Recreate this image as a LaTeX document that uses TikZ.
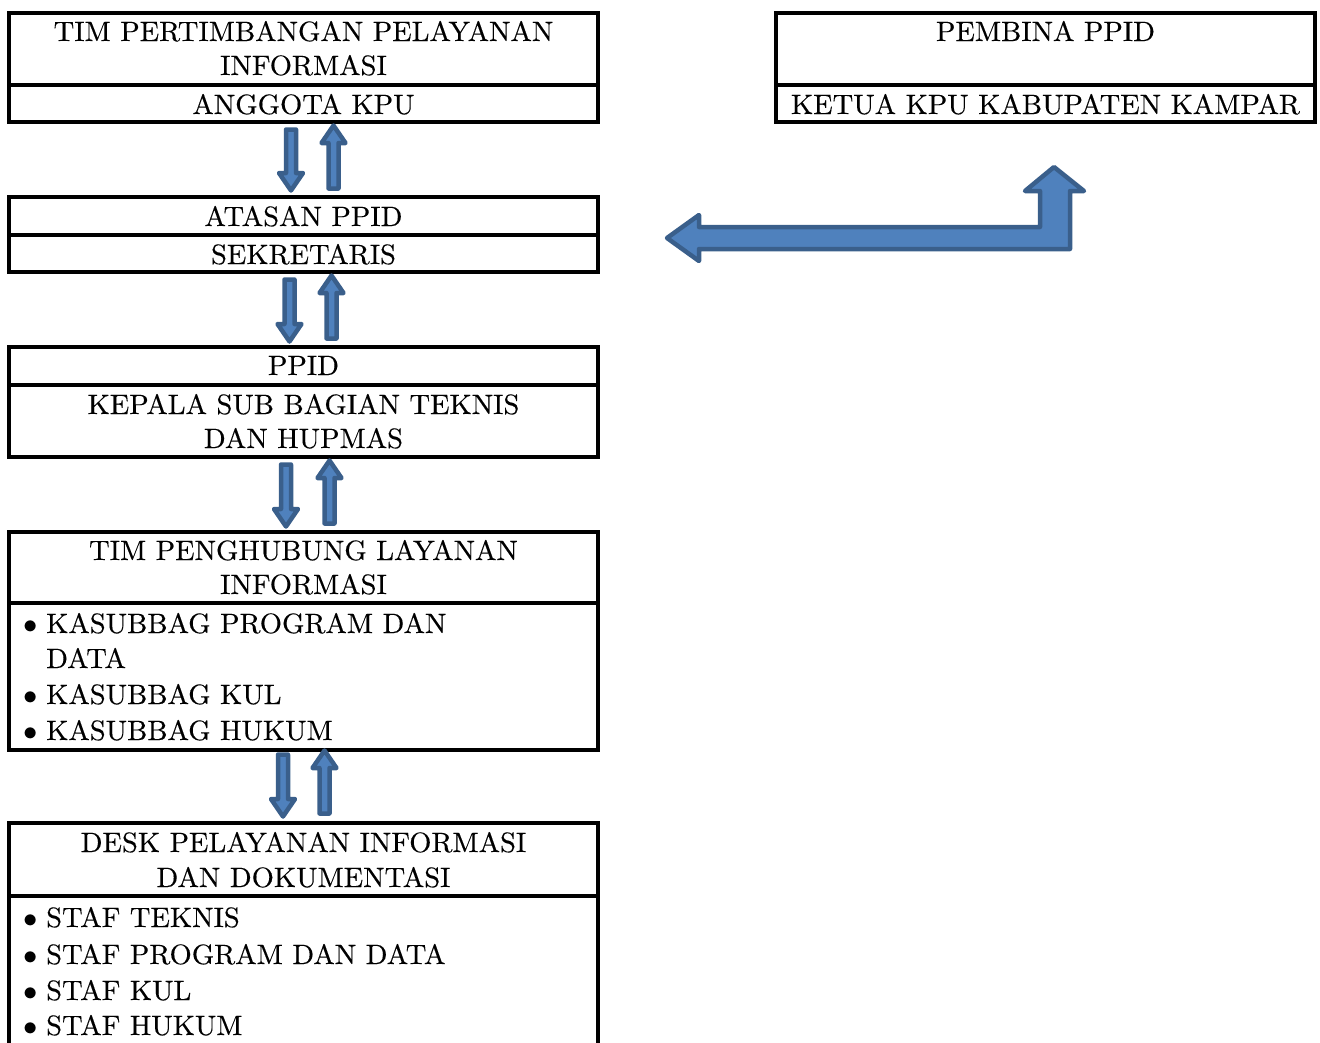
\documentclass[tikz,border=0pt]{standalone}
\usepackage{fontspec}
\setmainfont{lmroman10-regular.otf}[FakeStretch=1.02,FakeBold=0.3]
\definecolor{afill}{HTML}{4F81BD}
\definecolor{aline}{HTML}{3A5F8B}
\tikzset{
  box/.style={draw=black, line width=4pt, rectangle, inner sep=0pt, outer sep=0pt},
  lbl/.style={anchor=base, inner sep=0pt, font=\fontsize{28}{34}\selectfont},
  lbll/.style={anchor=base west, inner sep=0pt, font=\fontsize{28}{34}\selectfont},
  bul/.style={anchor=base, inner sep=0pt, font=\fontsize{28}{34}\selectfont},
  blk/.style={fill=afill, draw=aline, line width=4.5pt, line join=round},
}
\newcommand\myBul{\scalebox{1.15}{$\bullet$}}
\newcommand\myDown[3]{% center x, top y, tip y
  \draw[blk] (#1-5,#2+2.5) -- (#1+5,#2+2.5) -- (#1+5,#3-20) -- (#1+12,#3-20) -- (#1,#3-2.5) -- (#1-12,#3-20) -- (#1-5,#3-20) -- cycle;}
\newcommand\myUp[3]{% center x, tip y, bottom y
  \draw[blk] (#1-5,#3-2.5) -- (#1+5,#3-2.5) -- (#1+5,#2+20) -- (#1+12,#2+20) -- (#1,#2+2.5) -- (#1-12,#2+20) -- (#1-5,#2+20) -- cycle;}
\begin{document}
\begin{tikzpicture}[x=1pt,y=-1pt]
\useasboundingbox (0,0) rectangle (1320,1042);
\clip (0,0) rectangle (1320,1042);
% boxes
\node[box, minimum width=589pt, minimum height=72pt] (b1top) at (303.5,49) {};
\node[box, minimum width=589pt, minimum height=37pt] (b1bot) at (303.5,103.5) {};
\node[box, minimum width=539pt, minimum height=72pt] (rtop) at (1045.5,49) {};
\node[box, minimum width=539pt, minimum height=37pt] (rbot) at (1045.5,103.5) {};
\node[box, minimum width=589pt, minimum height=38pt] (b2top) at (303.5,216) {};
\node[box, minimum width=589pt, minimum height=37pt] (b2bot) at (303.5,253.5) {};
\node[box, minimum width=589pt, minimum height=38pt] (b3top) at (303.5,366) {};
\node[box, minimum width=589pt, minimum height=72pt] (b3bot) at (303.5,421) {};
\node[box, minimum width=589pt, minimum height=71.5pt] (b4top) at (303.5,567.25) {};
\node[box, minimum width=589pt, minimum height=147pt] (b4bot) at (303.5,676.5) {};
\node[box, minimum width=589pt, minimum height=73pt] (b5top) at (303.5,859.5) {};
\node[box, minimum width=589pt, minimum height=184pt] (b5bot) at (303.5,988) {};
% texts
\node[lbl] (t1a) at (303.5,41) {TIM PERTIMBANGAN PELAYANAN};
\node[lbl] (t1b) at (303.5,75) {INFORMASI};
\node[lbl] (t1c) at (303.5,114) {ANGGOTA KPU};
\node[lbl] (tra) at (1045.5,41) {PEMBINA PPID};
\node[lbl] (trb) at (1045.5,114) {KETUA KPU KABUPATEN KAMPAR};
\node[lbl] (t2a) at (303.5,226) {ATASAN PPID};
\node[lbl] (t2b) at (303.5,264) {SEKRETARIS};
\node[lbl] (t3a) at (303.5,375) {PPID};
\node[lbl] (t3b) at (303.5,414) {KEPALA SUB BAGIAN TEKNIS};
\node[lbl] (t3c) at (303.5,448) {DAN HUPMAS};
\node[lbl] (t4a) at (303.5,560) {TIM PENGHUBUNG LAYANAN};
\node[lbl] (t4b) at (303.5,594) {INFORMASI};
\node[bul] (u4a) at (31,633) {\myBul};
\node[lbll] (s4a) at (46,633) {KASUBBAG PROGRAM DAN};
\node[lbll] (s4b) at (46,668) {DATA};
\node[bul] (u4c) at (31,704) {\myBul};
\node[lbll] (s4c) at (46,704) {KASUBBAG KUL};
\node[bul] (u4d) at (31,740) {\myBul};
\node[lbll] (s4d) at (46,740) {KASUBBAG HUKUM};
\node[lbl] (t5a) at (303.5,852) {DESK PELAYANAN INFORMASI};
\node[lbl] (t5b) at (303.5,887) {DAN DOKUMENTASI};
\node[bul] (u5a) at (31,927) {\myBul};
\node[lbll] (s5a) at (46,927) {STAF TEKNIS};
\node[bul] (u5b) at (31,964) {\myBul};
\node[lbll] (s5b) at (46,964) {STAF PROGRAM DAN DATA};
\node[bul] (u5c) at (31,1000) {\myBul};
\node[lbll] (s5c) at (46,1000) {STAF KUL};
\node[bul] (u5d) at (31,1035) {\myBul};
\node[lbll] (s5d) at (46,1035) {STAF HUKUM};
% small block arrows
\myDown{291}{127}{193}
\myUp{333.5}{123}{191}
\myDown{289.5}{277}{344}
\myUp{331.5}{273}{341}
\myDown{286}{462}{529}
\myUp{329.5}{458}{526}
\myDown{283}{752}{819}
\myUp{324.5}{748}{816}
% big bent arrow
\draw[blk] (667,238) -- (699,215) -- (699,227) -- (1040,227) -- (1040,191) -- (1025,191) -- (1054,167) -- (1084,191) -- (1070,191) -- (1070,249) -- (699,249) -- (699,261) -- cycle;
\end{tikzpicture}
\end{document}
